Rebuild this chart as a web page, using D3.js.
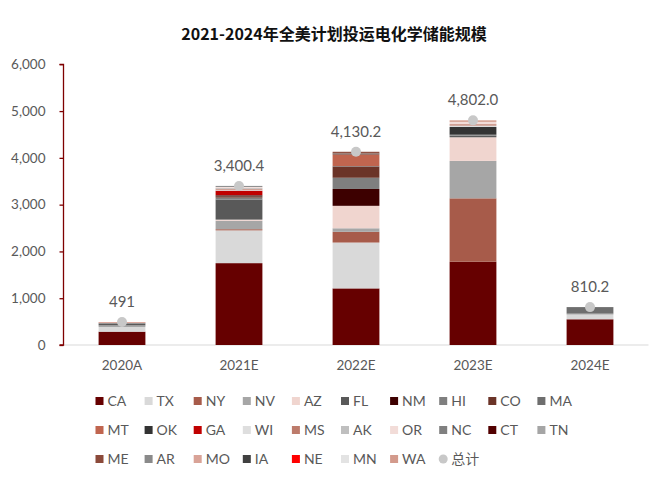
<!DOCTYPE html>
<html>
<head>
<meta charset="utf-8">
<script src="https://cdn.jsdelivr.net/npm/d3@7/dist/d3.min.js"></script>
<style>
  html, body { margin: 0; padding: 0; background: #fff; }
  svg { display: block; }
</style>
</head>
<body>
<svg id="chart" width="656" height="480"></svg>
<script>
// ---- data ----
const categories = ["2020A", "2021E", "2022E", "2023E", "2024E"];
const totals = [491, 3400.4, 4130.2, 4802.0, 810.2];
const totalLabels = ["491", "3,400.4", "4,130.2", "4,802.0", "810.2"];
const yTicks = [0, 1000, 2000, 3000, 4000, 5000, 6000];

const states = ["CA","TX","NY","NV","AZ","FL","NM","HI","CO","MA",
                "MT","OK","GA","WI","MS","AK","OR","NC","CT","TN",
                "ME","AR","MO","IA","NE","MN","WA"];

const CA = [285, 1750, 1210, 1780, 550];
const TX = [100, 700, 980, 0, 100];
const NY = [0, 25, 230, 1355, 0];
const NV = [35, 180, 75, 800, 20];
const AZ = [0, 25, 480, 505, 0];
const FL = [30, 430, 0, 35, 0];
const NM = [0, 0, 360, 0, 0];
const HI = [10, 40, 240, 20, 0];
const CO = [0, 30, 240, 0, 0];
const MA = [10, 0, 10, 0, 140.2];
const MT = [11, 0, 250, 0, 0];
const OK = [0, 20, 20, 165, 0];
const GA = [0, 100, 0, 0, 0];
const WI = [0, 20, 0, 30, 0];
const MS = [0, 20, 10, 30, 0];
const AK = [0, 20, 0, 0, 0];
const OR = [0, 20, 0, 50, 0];
const NC = [0, 20.4, 0, 0, 0];
const CT = [0, 0, 0, 0, 0];
const TN = [0, 0, 0, 0, 0];
const ME = [0, 0, 25.2, 0, 0];
const AR = [0, 0, 0, 0, 0];
const MO = [10, 0, 0, 0, 0];
const IA = [0, 0, 0, 0, 0];
const NE = [0, 0, 0, 0, 0];
const MN = [0, 0, 0, 0, 0];
const WA = [0, 0, 0, 32, 0];

const seriesValues = [CA,TX,NY,NV,AZ,FL,NM,HI,CO,MA,MT,OK,GA,WI,MS,AK,OR,NC,CT,TN,ME,AR,MO,IA,NE,MN,WA];

// ---- styles ----
const colors = ["#660000","#d9d9d9","#a75b4a","#a6a6a6","#f0d5cf","#595959","#3d0000","#7f7f7f","#6b3428","#6e6e6e",
                "#c0654f","#333333","#c00000","#dedede","#bd7b6b","#bfbfbf","#f2dcd8","#808080","#520000","#a5a5a5",
                "#8b4a3a","#8a8a8a","#d9a397","#404040","#ff0000","#e3e3e3","#d39a8c"];
const totalColor = "#c8c8c8";
const textColor = "#595959";
const numFont = "Lato, 'Open Sans', 'Liberation Sans', sans-serif";

// ---- build table ----
const table = categories.map((c, i) => {
  const row = { category: c };
  states.forEach((s, j) => { row[s] = seriesValues[j][i]; });
  return row;
});

const svg = d3.select("#chart");
const x0 = 63.5, x1 = 648.5, yTop = 64.3, yBottom = 345;

const x = d3.scaleBand().domain(categories).range([x0, x1]).paddingInner(0.6).paddingOuter(0.3);
const y = d3.scaleLinear().domain([0, 6000]).range([yBottom, yTop]);

// title
svg.append("text")
  .attr("x", 334).attr("y", 40)
  .attr("text-anchor", "middle")
  .attr("font-family", "'Noto Sans CJK SC', sans-serif")
  .attr("font-weight", "bold")
  .attr("font-size", 16)
  .attr("fill", "#111")
  .text("2021-2024年全美计划投运电化学储能规模");

// baseline
svg.append("line")
  .attr("x1", x0).attr("x2", x1)
  .attr("y1", y(0)).attr("y2", y(0))
  .attr("stroke", "#d9d9d9").attr("stroke-width", 1);

// stacked bars
const stack = d3.stack().keys(states);
const layers = stack(table);
svg.append("g").selectAll("g")
  .data(layers)
  .join("g")
  .attr("fill", (d, i) => colors[i])
  .selectAll("rect")
  .data(d => d)
  .join("rect")
  .attr("x", d => x(d.data.category))
  .attr("width", x.bandwidth())
  .attr("y", d => y(d[1]))
  .attr("height", d => Math.max(0, y(d[0]) - y(d[1])));

// y axis
const yAxis = d3.axisLeft(y).tickValues(yTicks).tickFormat(d3.format(",")).tickSize(4).tickPadding(14);
const gy = svg.append("g").attr("transform", `translate(${x0},0)`).call(yAxis);
gy.select(".domain").attr("stroke", "#7f0000").attr("stroke-width", 1.3).attr("d", `M-4,${yTop}H0V${yBottom}H-4`);
gy.selectAll(".tick line").attr("stroke", "#7f0000").attr("stroke-width", 1.3);
gy.selectAll(".tick text")
  .attr("fill", textColor).attr("font-size", 13.5).attr("font-family", numFont);

// x axis labels
const xAxis = d3.axisBottom(x).tickSize(0).tickPadding(15);
const gx = svg.append("g").attr("transform", `translate(0,${yBottom})`).call(xAxis);
gx.select(".domain").remove();
gx.selectAll(".tick text")
  .attr("fill", textColor).attr("font-size", 13.5).attr("font-family", numFont);

// totals dots + labels
svg.append("g").selectAll("circle")
  .data(totals)
  .join("circle")
  .attr("cx", (d, i) => x(categories[i]) + x.bandwidth() / 2)
  .attr("cy", d => y(d))
  .attr("r", 5)
  .attr("fill", totalColor);

svg.append("g").selectAll("text")
  .data(totals)
  .join("text")
  .attr("x", (d, i) => x(categories[i]) + x.bandwidth() / 2)
  .attr("y", d => y(d) - 15)
  .attr("text-anchor", "middle")
  .attr("fill", textColor)
  .attr("font-size", 15)
  .attr("font-family", numFont)
  .text((d, i) => totalLabels[i]);

// legend
const legendItems = states.map((s, i) => ({ name: s, color: colors[i], type: "rect" }));
legendItems.push({ name: "总计", color: totalColor, type: "circle" });
const colStart = 95.5, colStep = 49.1, rowYs = [401, 430, 459];
const lg = svg.append("g");
legendItems.forEach((it, i) => {
  const col = i % 10, row = Math.floor(i / 10);
  const lx = colStart + col * colStep, ly = rowYs[row];
  if (it.type === "rect") {
    lg.append("rect").attr("x", lx).attr("y", ly - 4).attr("width", 8).attr("height", 8).attr("fill", it.color);
  } else {
    lg.append("circle").attr("cx", lx + 4).attr("cy", ly).attr("r", 4.5).attr("fill", it.color);
  }
  lg.append("text")
    .attr("x", lx + 12).attr("y", ly)
    .attr("dy", "0.35em")
    .attr("fill", textColor)
    .attr("font-size", 14)
    .attr("font-family", it.type === "circle" ? "'Noto Sans CJK SC', sans-serif" : numFont)
    .text(it.name);
});
</script>
</body>
</html>
